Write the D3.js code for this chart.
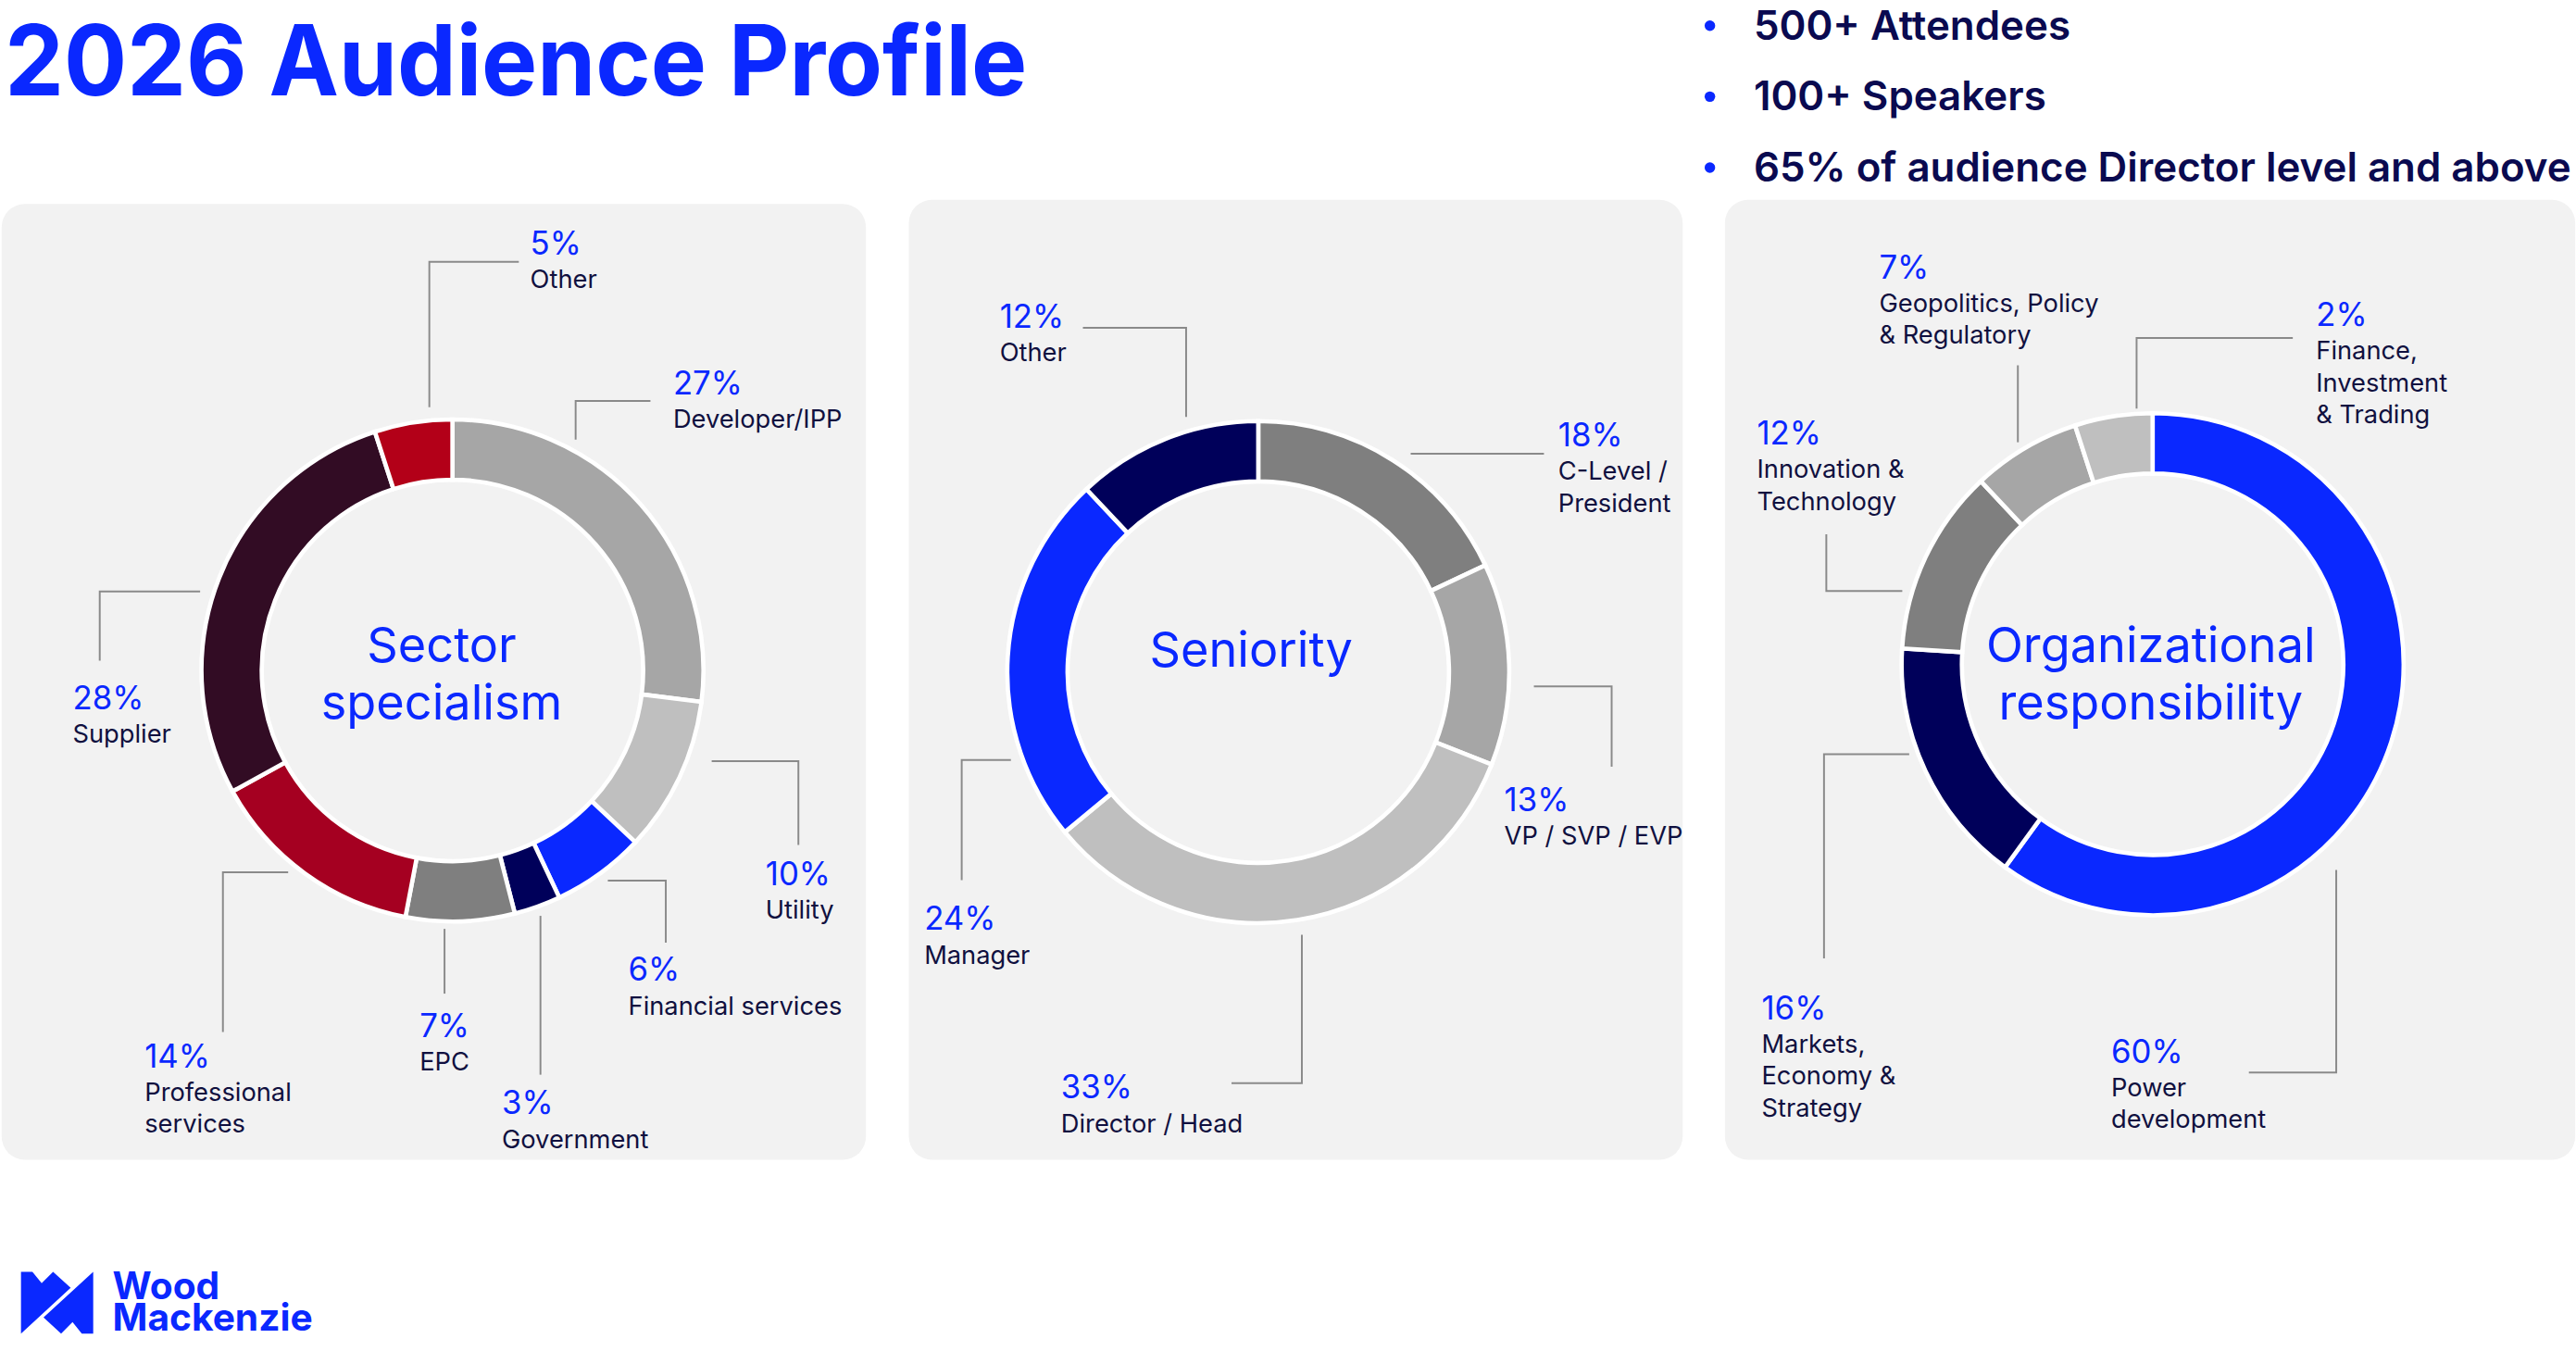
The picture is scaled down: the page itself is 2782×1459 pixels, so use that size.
<!DOCTYPE html>
<html>
<head>
<meta charset="utf-8">
<script src="https://cdn.jsdelivr.net/npm/d3@7"></script>
<style>
  html, body { margin: 0; padding: 0; background: #fff; }
  svg { display: block; }
</style>
</head>
<body>
<div id="chart"></div>
<script>
// ---- values ----
const sectorNames = ["Developer/IPP", "Utility", "Financial services", "Government", "EPC",
                     "Professional\nservices", "Supplier", "Other"];
const sectorValues = [27, 10, 6, 3, 7, 14, 28, 5];

const seniorityNames = ["C-Level /\nPresident", "VP / SVP / EVP", "Director / Head", "Manager", "Other"];
const seniorityValues = [18, 13, 33, 24, 12];

const orgNames = ["Power\ndevelopment", "Markets,\nEconomy &\nStrategy", "Innovation &\nTechnology",
                  "Geopolitics, Policy\n& Regulatory", "Finance,\nInvestment\n& Trading"];
const orgValues = [60, 16, 12, 7, 5];      // slice sizes as drawn on the ring
const orgPrinted = [60, 16, 12, 7, 2];     // percentages printed next to the ring

const bullets = ["500+ Attendees", "100+ Speakers", "65% of audience Director level and above"];

// ---- styling ----
const BLUE = "#0a28ff", NAVY = "#00005a", INK = "#10103f";
const sectorColors = ["#a6a6a6", "#bfbfbf", BLUE, NAVY, "#7f7f7f", "#a50021", "#320c24", "#b30018"];
const seniorityColors = ["#7f7f7f", "#a6a6a6", "#bfbfbf", BLUE, NAVY];
const orgColors = [BLUE, NAVY, "#7f7f7f", "#a6a6a6", "#bfbfbf"];

// label anchors / leader lines, relative to each donut centre (slide units)
const sectorLayout = [
  { t: [133.6, -167.3], l: [[74.6, -139.8], [74.6, -163.2], [119.9, -163.2]] },
  { t: [189.6, 129.8],  l: [[157, 54.9], [209.5, 54.9], [209.5, 105.7]] },
  { t: [106.5, 188.1],  l: [[94.1, 127.3], [129.2, 127.3], [129.2, 164.8]] },
  { t: [29.9, 268.8],   l: [[53.3, 148.6], [53.3, 244.8]] },
  { t: [-19.9, 221.8],  l: [[-4.8, 156.5], [-4.8, 195.7]] },
  { t: [-186.4, 240.3], l: [[-99.5, 122.2], [-139, 122.2], [-139, 219]] },
  { t: [-230, 23.3],    l: [[-152.8, -47.8], [-213.6, -47.8], [-213.6, -5.9]] },
  { t: [47.1, -252],    l: [[-14, -159.4], [-14, -247.5], [40.2, -247.5]] }
];
const seniorityLayout = [
  { t: [181.6, -136.7], l: [[92.3, -132.2], [173, -132.2]] },
  { t: [149, 84.1],     l: [[166.9, 8.6], [214, 8.6], [214, 57.3]] },
  { t: [-119.5, 258.2], l: [[26.4, 159], [26.4, 248.9], [-16.2, 248.9]] },
  { t: [-202.3, 156.2], l: [[-149.8, 53.2], [-179.6, 53.2], [-179.6, 126]] },
  { t: [-156.6, -208.5], l: [[-106.2, -208.5], [-43.7, -208.5], [-43.7, -154.6]] }
];
const orgLayout = [
  { t: [-25.1, 241.3],  l: [[111.2, 124.6], [111.2, 247.3], [58.3, 247.3]] },
  { t: [-236.8, 215],   l: [[-147.4, 54.5], [-199, 54.5], [-199, 178.2]] },
  { t: [-239.6, -133],  l: [[-151.6, -44.3], [-197.6, -44.3], [-197.6, -78.7]] },
  { t: [-165.6, -233.6], l: [[-81.6, -134.4], [-81.6, -181]] },
  { t: [99, -204.9],    l: [[-9.7, -154.8], [-9.7, -197.5], [84.9, -197.5]] }
];

const W = 2782, H = 1459;
const svg = d3.select("#chart").append("svg")
  .attr("width", W).attr("height", H)
  .attr("viewBox", "0 0 1560 818.1")
  .style("font-family", "Inter, 'Noto Sans', sans-serif");

// title
svg.append("text")
  .attr("x", 3).attr("y", 58)
  .attr("fill", BLUE)
  .attr("font-size", 59).attr("font-weight", 700)
  .attr("textLength", 619).attr("lengthAdjust", "spacingAndGlyphs")
  .text("2026 Audience Profile");

// key facts
const facts = svg.append("g");
bullets.forEach((b, i) => {
  const y = 24 + i * 43;
  facts.append("circle").attr("cx", 1035.5).attr("cy", y - 8.5).attr("r", 3.2).attr("fill", BLUE);
  facts.append("text")
    .attr("x", 1062).attr("y", y)
    .attr("fill", "#0a0a50")
    .attr("font-size", 24.6).attr("font-weight", 600)
    .text(b);
});

// panels
const panels = [
  { x0: 1, y0: 123.5, x1: 524.4, y1: 702.3 },
  { x0: 550.4, y0: 121, x1: 1019, y1: 702.3 },
  { x0: 1044.6, y0: 121, x1: 1559.5, y1: 702.3 }
];
svg.append("g").selectAll("rect")
  .data(panels)
  .enter().append("rect")
  .attr("x", d => d.x0).attr("y", d => d.y0)
  .attr("width", d => d.x1 - d.x0).attr("height", d => d.y1 - d.y0)
  .attr("rx", 14).attr("ry", 14)
  .attr("fill", "#f2f2f2");

const arc = d3.arc().innerRadius(115.5).outerRadius(152);
const pie = d3.pie().sort(null).value(d => d.v);

function drawDonut(cx, cy, names, values, printed, colors, layout, title, titleDx, titleY) {
  const g = svg.append("g").attr("transform", `translate(${cx},${cy})`);
  const rows = names.map((n, i) => ({ n, v: values[i], p: printed[i], c: colors[i], lay: layout[i] }));

  g.append("g").selectAll("path")
    .data(pie(rows))
    .enter().append("path")
    .attr("d", arc)
    .attr("fill", d => d.data.c)
    .attr("stroke", "#fff")
    .attr("stroke-width", 2.6)
    .attr("stroke-linejoin", "miter");

  // leader lines
  g.append("g").selectAll("polyline")
    .data(rows)
    .enter().append("polyline")
    .attr("points", d => d.lay.l.map(p => p.join(",")).join(" "))
    .attr("fill", "none")
    .attr("stroke", "#8a8a8a")
    .attr("stroke-width", 1.1);

  // labels
  const lab = g.append("g").selectAll("text")
    .data(rows)
    .enter().append("text")
    .attr("x", d => d.lay.t[0]).attr("y", d => d.lay.t[1]);
  lab.append("tspan")
    .attr("fill", BLUE).attr("font-size", 19.5)
    .text(d => d.p + "%");
  lab.each(function (d) {
    const t = d3.select(this);
    d.n.split("\n").forEach((line, k) => {
      t.append("tspan")
        .attr("x", d.lay.t[0])
        .attr("dy", k === 0 ? 20.4 : 19.2)
        .attr("fill", INK).attr("font-size", 15.3)
        .text(line);
    });
  });

  // centre caption
  const cap = g.append("text")
    .attr("text-anchor", "middle")
    .attr("fill", BLUE).attr("font-size", 29.3);
  title.forEach((line, k) => {
    cap.append("tspan").attr("x", titleDx).attr("y", titleY + k * 34.6).text(line);
  });
}

drawDonut(274, 406, sectorNames, sectorValues, sectorValues, sectorColors, sectorLayout,
  ["Sector", "specialism"], -6.5, -4.9);
drawDonut(762, 407, seniorityNames, seniorityValues, seniorityValues, seniorityColors, seniorityLayout,
  ["Seniority"], -4.3, -3.5);
drawDonut(1303.6, 402.2, orgNames, orgValues, orgPrinted, orgColors, orgLayout,
  ["Organizational", "responsibility"], -1.1, -1.2);

// Wood Mackenzie mark
const logo = svg.append("g").attr("fill", BLUE);
const toSlide = p => [p[0] / 5.35, 751.5 + p[1] / 5.35];
const markL = [[68, 100], [105, 100], [135, 137], [172, 100], [229, 152], [68, 300]];
const markR = markL.map(p => [370 - p[0], 400 - p[1]]);
[markL, markR].forEach(poly => {
  logo.append("polygon").attr("points", poly.map(toSlide).map(p => p.join(",")).join(" "));
});
const word = logo.append("text").attr("font-size", 22.8).attr("font-weight", 700);
word.append("tspan").attr("x", 68.2).attr("y", 787).text("Wood");
word.append("tspan").attr("x", 68.2).attr("y", 805.7).text("Mackenzie");
</script>
</body>
</html>
